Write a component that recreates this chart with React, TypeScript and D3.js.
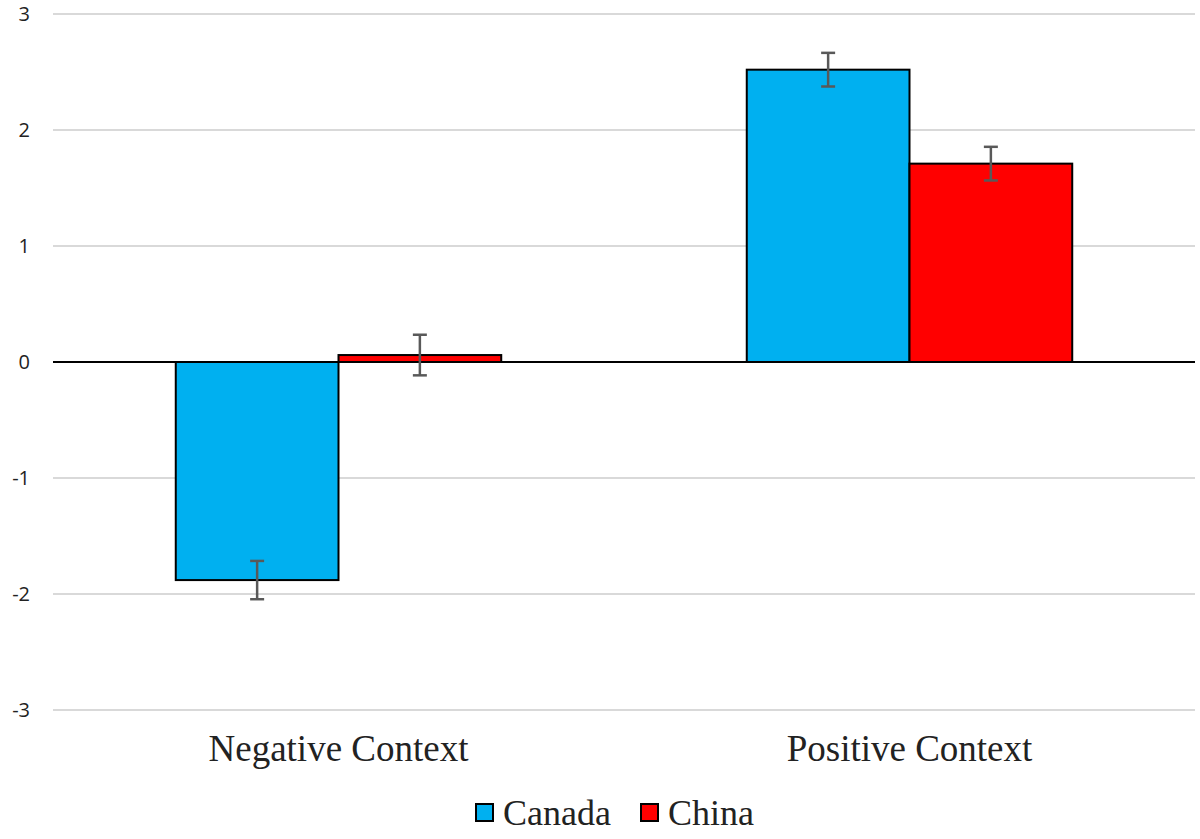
import * as d3 from "d3";

const categories = ["Negative Context", "Positive Context"];
const seriesNames = ["Canada", "China"];
const seriesColors = ["#00B0F0", "#FF0000"];
const canadaValues = [-1.88, 2.52];
const chinaValues = [0.06, 1.71];
const canadaErrors = [0.165, 0.145];
const chinaErrors = [0.175, 0.145];
const yTicks = [-3, -2, -1, 0, 1, 2, 3];

const width = 1200;
const height = 839;
const margin = { top: 14, right: 5, bottom: 129, left: 53 };

export default function App() {
  const x0 = d3
    .scaleBand<string>()
    .domain(categories)
    .range([margin.left, width - margin.right])
    .paddingInner(0.43)
    .paddingOuter(0.215);

  const x1 = d3
    .scaleBand<string>()
    .domain(seriesNames)
    .range([0, x0.bandwidth()]);

  const y = d3
    .scaleLinear()
    .domain([-3, 3])
    .range([height - margin.bottom, margin.top]);

  const values = [canadaValues, chinaValues];
  const errors = [canadaErrors, chinaErrors];

  const bars = categories.flatMap((cat, ci) =>
    seriesNames.map((s, si) => ({
      cat,
      series: s,
      color: seriesColors[si],
      value: values[si][ci],
      err: errors[si][ci],
    }))
  );

  return (
    <svg
      width={width}
      height={height}
      style={{ position: "absolute", left: 0, top: 0, background: "#fff" }}
    >
      {/* gridlines */}
      {yTicks
        .filter((t) => t !== 0)
        .map((t) => (
          <line
            key={t}
            x1={margin.left}
            x2={width - margin.right}
            y1={y(t)}
            y2={y(t)}
            stroke="#D9D9D9"
            strokeWidth={2}
          />
        ))}
      {/* tick labels */}
      {yTicks.map((t) => (
        <text
          key={t}
          x={30}
          y={y(t)}
          dy="0.36em"
          textAnchor="end"
          fontFamily="'Open Sans', 'DejaVu Sans', sans-serif"
          fontSize={20}
          fill="#222"
        >
          {t}
        </text>
      ))}
      {/* bars */}
      {bars.map((b) => {
        const bx = (x0(b.cat) ?? 0) + (x1(b.series) ?? 0);
        return (
          <rect
            key={b.cat + b.series}
            x={bx}
            y={Math.min(y(b.value), y(0))}
            width={x1.bandwidth()}
            height={Math.abs(y(b.value) - y(0))}
            fill={b.color}
            stroke="#000"
            strokeWidth={2}
          />
        );
      })}
      {/* zero line */}
      <line
        x1={margin.left}
        x2={width - margin.right}
        y1={y(0)}
        y2={y(0)}
        stroke="#000"
        strokeWidth={2}
      />
      {/* error bars */}
      {bars.map((b) => {
        const cx = (x0(b.cat) ?? 0) + (x1(b.series) ?? 0) + x1.bandwidth() / 2;
        const yHi = y(b.value + b.err);
        const yLo = y(b.value - b.err);
        return (
          <g key={"e" + b.cat + b.series} stroke="#595959" strokeWidth={2.5}>
            <line x1={cx} x2={cx} y1={yHi} y2={yLo} />
            <line x1={cx - 7} x2={cx + 7} y1={yHi} y2={yHi} />
            <line x1={cx - 7} x2={cx + 7} y1={yLo} y2={yLo} />
          </g>
        );
      })}
      {/* category labels */}
      {categories.map((c) => (
        <text
          key={c}
          x={(x0(c) ?? 0) + x0.bandwidth() / 2}
          y={761}
          textAnchor="middle"
          fontFamily="'Liberation Serif', 'Times New Roman', serif"
          fontSize={37}
          fill="#222"
        >
          {c}
        </text>
      ))}
      {/* legend */}
      {seriesNames.map((s, i) => {
        const lx = [476, 641][i];
        return (
          <g key={s}>
            <rect
              x={lx}
              y={804}
              width={17}
              height={17}
              fill={seriesColors[i]}
              stroke="#000"
              strokeWidth={2}
            />
            <text
              x={lx + 27}
              y={825}
              fontFamily="'Liberation Serif', 'Times New Roman', serif"
              fontSize={36}
              fill="#222"
            >
              {s}
            </text>
          </g>
        );
      })}
    </svg>
  );
}
